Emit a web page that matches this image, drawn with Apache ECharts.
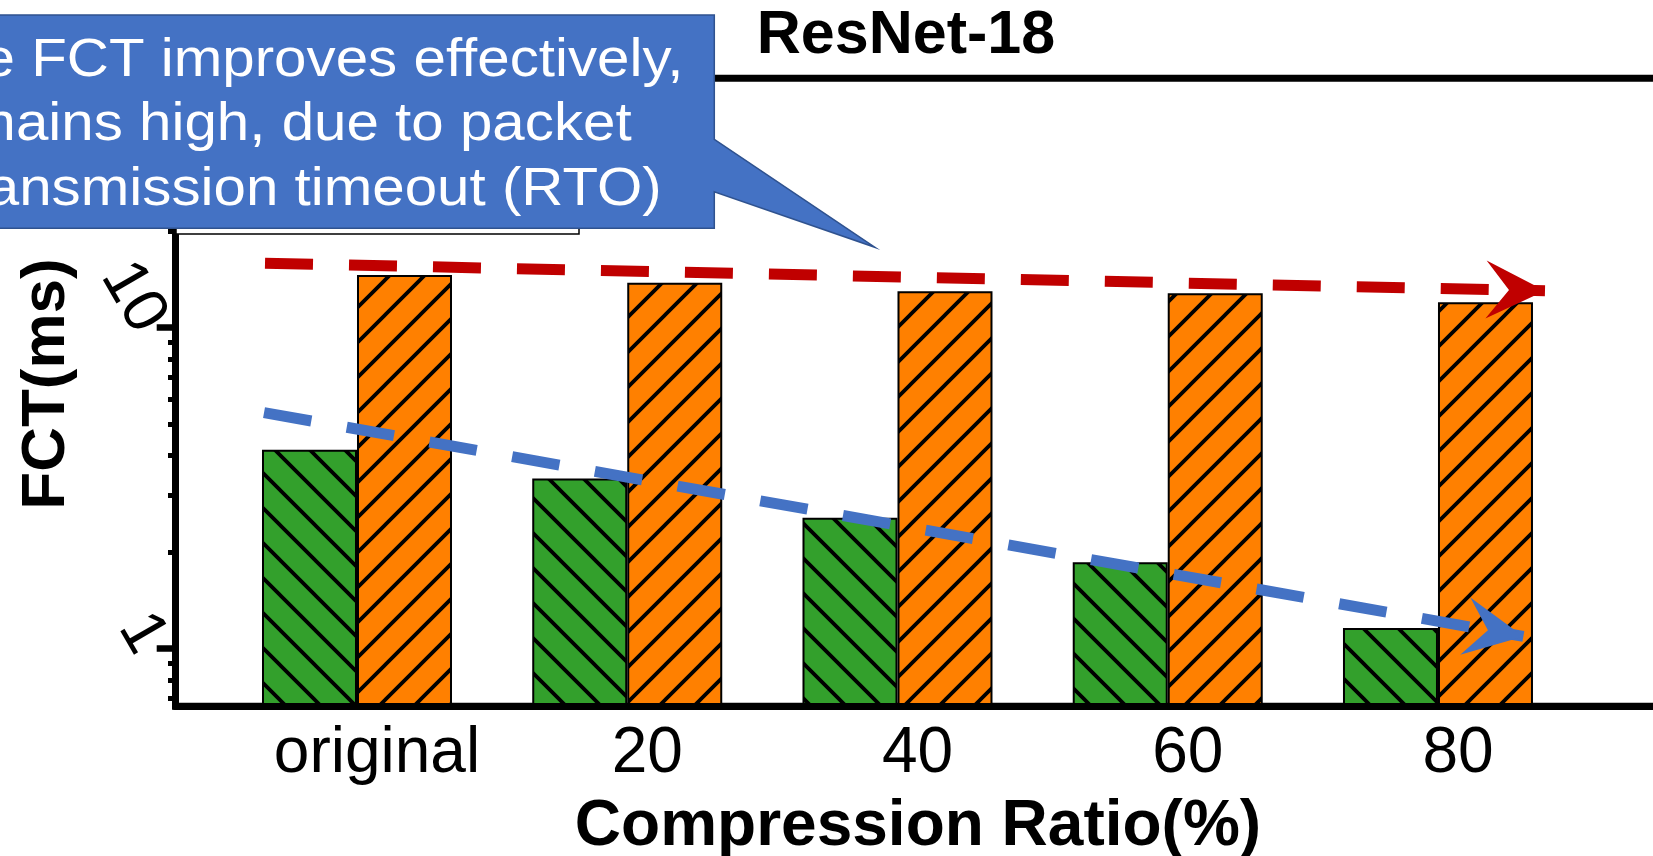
<!DOCTYPE html>
<html>
<head>
<meta charset="utf-8">
<script src="https://cdn.jsdelivr.net/npm/echarts@6/dist/echarts.min.js"></script>
<style>
  html, body { margin: 0; padding: 0; background: #fff; }
  #chart { width: 1653px; height: 856px; }
</style>
</head>
<body>
<div id="chart"></div>
<script>
// Flow completion time per compression ratio (log scale, ms)
const categories = ['original', '20', '40', '60', '80'];
const fctGreen = [4.17, 3.39, 2.56, 1.86, 1.16];
const fctOrange = [14.6, 13.8, 13.0, 12.8, 12.0];
const yMajorTicks = [1, 10];
const yMinorTicks = [0.7, 0.8, 0.9, 2, 3, 4, 5, 6, 7, 8, 9, 20, 30, 40, 50];
const yRange = [0.6617, 59.83];
const xRange = [-0.6716, 4.816];
// trend arrows, in data coordinates [category position, FCT]
const redTrend = [[-0.3404, 15.88], [4.396, 13.03]];
const blueTrend = [[-0.344, 5.44], [4.316, 1.092]];
const calloutLines = ['the FCT improves effectively,', 'remains high, due to packet', 'retransmission timeout (RTO)'];

const FONT = '"Liberation Sans", Arial, Helvetica, sans-serif';

// diagonal hatch tile drawn over a solid fill
function hatch(bg, dir) {
  const s = 35;
  const c = document.createElement('canvas');
  c.width = s; c.height = s;
  const g = c.getContext('2d');
  g.fillStyle = bg;
  g.fillRect(0, 0, s, s);
  g.strokeStyle = '#000';
  g.lineWidth = 3.8;
  g.beginPath();
  for (let k = -1; k <= 1; k++) {
    if (dir === '/') { g.moveTo(-5 + k * s, s + 5); g.lineTo(s + 5 + k * s, -5); }
    else { g.moveTo(-5 + k * s, -5); g.lineTo(s + 5 + k * s, s + 5); }
  }
  g.stroke();
  return { image: c, repeat: 'repeat' };
}

const arrowHead = 'path://M29,0 L58,59 L29,36 L0,59 Z';
function trendLine(pts, color) {
  return {
    type: 'line',
    data: [],
    silent: true,
    markLine: {
      silent: true,
      animation: false,
      symbol: ['none', arrowHead],
      label: { show: false },
      itemStyle: { color: color },
      lineStyle: { color: color, width: 11, type: [48, 36], cap: 'butt', opacity: 1 },
      emphasis: { disabled: true },
      data: [[
        { coord: pts[0], symbol: 'none' },
        { coord: pts[1], symbol: arrowHead, symbolSize: [58, 59], symbolOffset: [0, 29.5], itemStyle: { color: color } }
      ]]
    }
  };
}

const toPairs = vals => vals.map((v, i) => [i, v]);

const chart = echarts.init(document.getElementById('chart'), null, { renderer: 'canvas' });

const option = {
  animation: false,
  backgroundColor: '#fff',
  grid: {
    left: 175.5, top: 78.3, width: 1483, height: 628,
    outerBoundsMode: 'none',
    containLabel: false,
    show: true, borderColor: '#000', borderWidth: 7, backgroundColor: 'transparent'
  },
  xAxis: {
    type: 'value',
    min: xRange[0], max: xRange[1],
    z: 10,
    axisLine: { show: true, onZero: false, lineStyle: { color: '#000', width: 7 } },
    axisTick: { show: false },
    splitLine: { show: false },
    axisLabel: {
      customValues: [0, 1, 2, 3, 4],
      formatter: v => categories[Math.round(v)],
      color: '#000', fontSize: 64, fontFamily: FONT,
      margin: 16, padding: [0, 0, 0, 40]
    }
  },
  yAxis: [
    {
      type: 'log', logBase: 10,
      min: yRange[0], max: yRange[1],
      startValue: yRange[0],
      z: 10,
      axisLine: { show: true, onZero: false, lineStyle: { color: '#000', width: 7 } },
      axisTick: { show: true, customValues: yMajorTicks, length: 18.8, lineStyle: { color: '#000', width: 6.5 } },
      splitLine: { show: false },
      minorTick: { show: false },
      axisLabel: {
        customValues: yMajorTicks,
        formatter: v => String(Math.round(v)),
        rotate: -60,
        color: '#000', fontSize: 63, fontFamily: FONT,
        margin: 25
      }
    },
    {
      type: 'log', logBase: 10,
      min: yRange[0], max: yRange[1],
      position: 'left',
      z: 10,
      axisLine: { show: false, onZero: false },
      axisTick: { show: true, customValues: yMinorTicks, length: 7.5, lineStyle: { color: '#000', width: 5 } },
      axisLabel: { show: false },
      splitLine: { show: false }
    }
  ],
  series: [
    {
      type: 'bar',
      data: toPairs(fctGreen),
      barWidth: 95,
      barGap: '0%',
      itemStyle: { color: hatch('#33A02C', '\\'), borderColor: '#000', borderWidth: 2 },
      emphasis: { disabled: true }
    },
    {
      type: 'bar',
      data: toPairs(fctOrange),
      barWidth: 95,
      barGap: '0%',
      itemStyle: { color: hatch('#FF8000', '/'), borderColor: '#000', borderWidth: 2 },
      emphasis: { disabled: true }
    },
    trendLine(redTrend, '#C00000'),
    trendLine(blueTrend, '#4472C4')
  ],
  graphic: [
    {
      type: 'text', x: 906, y: 36, z: 50,
      style: { text: 'ResNet-18', fill: '#000', fontSize: 61, fontWeight: 'bold', fontFamily: FONT, align: 'center', verticalAlign: 'middle' }
    },
    {
      type: 'text', x: 918, y: 827, z: 50,
      style: { text: 'Compression Ratio(%)', fill: '#000', fontSize: 64, fontWeight: 'bold', fontFamily: FONT, align: 'center', verticalAlign: 'middle' }
    },
    {
      type: 'text', x: 47, y: 384, rotation: Math.PI / 2, z: 50,
      style: { text: 'FCT(ms)', fill: '#000', fontSize: 62, fontWeight: 'bold', fontFamily: FONT, align: 'center', verticalAlign: 'middle' }
    },
    // legend frame
    {
      type: 'rect', z: 60,
      shape: { x: 176, y: 120, width: 403, height: 114 },
      style: { fill: '#fff', stroke: '#000', lineWidth: 1.5 }
    },
    // callout bubble
    {
      type: 'polygon', z: 80,
      shape: { points: [[-5, 15], [714.3, 15], [714.3, 139.3], [875, 247.3], [714.3, 191.7], [714.3, 228.3], [-5, 228.3]] },
      style: { fill: '#4472C4', stroke: '#2F528F', lineWidth: 1.5 }
    },
    {
      type: 'text', x: 683.5, y: 61, scaleX: 1.1, z: 90,
      style: { text: calloutLines[0], fill: '#fff', fontSize: 53, fontFamily: FONT, align: 'right', verticalAlign: 'middle' }
    },
    {
      type: 'text', x: 631.7, y: 125.6, scaleX: 1.1, z: 90,
      style: { text: calloutLines[1], fill: '#fff', fontSize: 53, fontFamily: FONT, align: 'right', verticalAlign: 'middle' }
    },
    {
      type: 'text', x: 661.7, y: 190.3, scaleX: 1.1, z: 90,
      style: { text: calloutLines[2], fill: '#fff', fontSize: 53, fontFamily: FONT, align: 'right', verticalAlign: 'middle' }
    }
  ]
};

chart.setOption(option);
</script>
</body>
</html>
